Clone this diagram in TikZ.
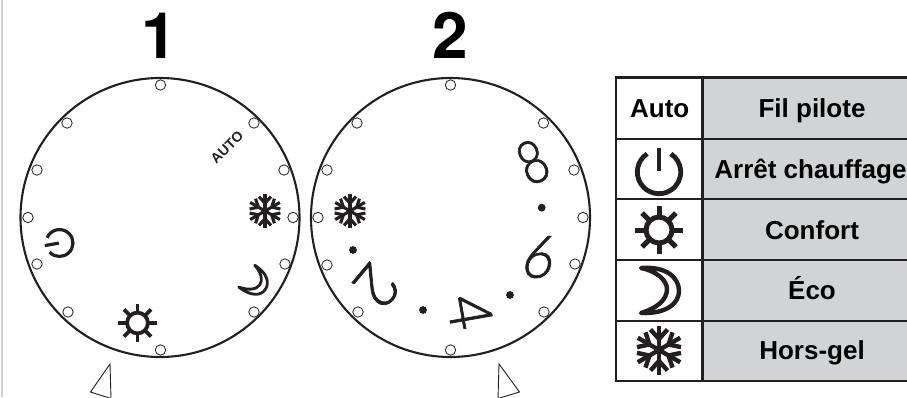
\documentclass[tikz,border=0pt]{standalone}
\usepackage{fontspec}
\setmainfont{Liberation Sans}
\newfontfamily\thinfont[FakeBold=1.2]{Lato Light}
\newfontfamily\thinslant[FakeSlant=0.16,FakeBold=1.2]{Lato Light}
\newfontfamily\heavyfont{TeX Gyre Heros}
\definecolor{cellgray}{HTML}{D1D3D4}
\definecolor{ink}{HTML}{231F20}
\newcommand{\dial}[1]{%
  \draw[dialring] (#1,217.5) circle (139.5);
}
\tikzset{
  x=1pt,y=-1pt,
  dialring/.style={draw=ink,line width=2.1pt},
  peg/.style={draw=ink,fill=white,line width=0.8pt},
  pointer/.style={draw=ink,line width=0.9pt,fill=white,line join=miter},
  dotmark/.style={fill=ink},
  bigtitle/.style={font=\heavyfont\bfseries\fontsize{64}{64}\selectfont,anchor=base,inner sep=0pt},
  celltext/.style={font=\bfseries\fontsize{26}{26}\selectfont,anchor=base,inner sep=0pt},
  numeral/.style={font=\thinfont\fontsize{60}{60}\selectfont,inner sep=0pt,text=ink},
  numeralslant/.style={font=\thinslant\fontsize{60}{60}\selectfont,inner sep=0pt,text=ink},
  tablerule/.style={draw=ink,line width=2.4pt},
  snow/.pic={
    \foreach \a in {30,90,...,330}{
      \begin{scope}[rotate=\a]
        \draw[ink,line width=#1pt,line cap=butt] (0,0) -- (24.5,0);
        \draw[ink,line width=#1pt,line cap=butt,line join=round] (20.5,-8.5) -- (11,0) -- (20.5,8.5);
      \end{scope}
    }
  },
  sun/.pic={
    \foreach \a in {0,45,...,315}{
      \draw[ink,line width=#1pt,rotate=\a] (12,0) -- (24,0);
    }
    \draw[ink,line width=#1pt,fill=white] (0,0) circle (13);
  },
  moon/.pic={
    \draw[ink,line width=#1pt,fill=white,line join=round]
      (-18,-22) .. controls (8,-24) and (20,-12) .. (20,1)
      .. controls (20,13) and (8,24) .. (-18,23)
      .. controls (-2,18) and (8,10) .. (8,-1)
      .. controls (8,-10) and (-3,-19) .. (-18,-22) -- cycle;
  },
  power/.pic={
    \draw[ink,line width=#1pt] (-11.8,-18.2) arc[start angle=-123,end angle=-417,radius=21.7];
    \draw[ink,line width=#1pt] (0,-24) -- (0,-1);
  },
}
\begin{document}
\begin{tikzpicture}
\useasboundingbox (0,0) rectangle (907,397);
\begin{scope}
\clip (0,0) rectangle (907,397);
\fill[black!18] (1,0) rectangle (2.6,397);

% titles
\node[bigtitle] (t1) at (159,58) {1};
\node[bigtitle] (t2) at (450,58) {2};

% dials
\dial{160}
\dial{450.5}
\foreach \x/\y in {160.5/85,254/123,284/170,293/217.5,285/264,254/312,160.5/350,68/312,37/264,28/217.5,37/170,67/123,
  450.5/85,543.5/123,574/170,583/217.5,575/264,544/312,450.5/350,358/312,327/265,318/217.5,327/170,357/123}{
  \draw[peg] (\x,\y) circle (5.2);
}

% pointers
\draw[pointer] (110,364) -- (90.5,392) -- (111,398.5) -- cycle;
\draw[pointer] (499,364) -- (519.5,392) -- (498,398.5) -- cycle;

% dial 1 symbols
\node[font=\bfseries\fontsize{14}{14}\selectfont,rotate=45,inner sep=0pt,text=ink] (auto) at (227,147) {AUTO};
\pic[scale=.7] at (265,211) {snow={3.1}};
\pic[scale=.6,rotate=-36] at (255.7,282.3) {moon={2.8}};
\pic[scale=.8] at (137.5,323) {sun={3.8}};
\pic[scale=.62,rotate=100] at (59.5,243) {power={3.2}};

% dial 2 symbols
\pic[scale=.7] at (350,211) {snow={3.1}};
\foreach \x/\y in {541.7/207.7,353/250,423/310,510/295}{
  \fill[dotmark] (\x,\y) circle (3.9);
}
\node[numeral,rotate=24,xscale=.8] (n8) at (532.7,162) {8};
\node[numeralslant,rotate=-4,xscale=.9] (n6) at (536.7,256.7) {6};
\node[numeral,rotate=-80] (n4) at (470,312) {4};
\node[numeral,rotate=-130] (n2) at (377,286) {2};

% table
\fill[white] (616,78) rectangle (702,381);
\fill[cellgray] (702,78) rectangle (907,381);
\foreach \y in {77.5,138.7,199,260,320.7,380.7}{
  \draw[tablerule] (614.8,\y) -- (907,\y);
}
\draw[tablerule] (616,77.5) -- (616,380.7);
\draw[tablerule] (702.5,77.5) -- (702.5,380.7);

\node[celltext] (c1) at (659.7,117) {Auto};
\node[celltext] (c2) at (812,117) {Fil pilote};
\node[celltext] (c4) at (810.5,178) {Arrêt chauffage};
\node[celltext] (c6) at (812,239) {Confort};
\node[celltext] (c8) at (812,299) {Éco};
\node[celltext] (c10) at (812,359) {Hors-gel};
\pic at (659,172) {power={4.8}};
\pic at (659,230) {sun={5}};
\pic at (659,290) {moon={4.4}};
\pic at (659,350) {snow={4.4}};
\end{scope}
\end{tikzpicture}
\end{document}
